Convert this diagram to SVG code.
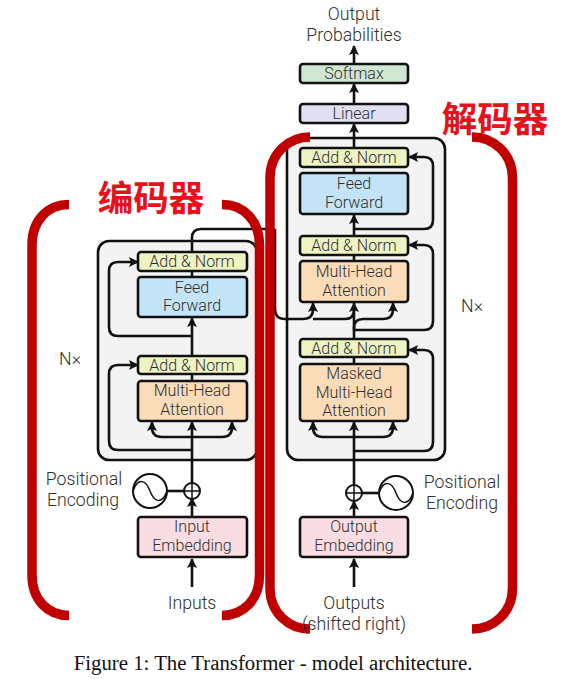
<svg xmlns="http://www.w3.org/2000/svg" width="572" height="680" viewBox="0 0 572 680">
<defs>
<marker id="ah" markerUnits="userSpaceOnUse" markerWidth="10" markerHeight="12" refX="9" refY="5" orient="auto"><path d="M0 0L10 5L0 10L2 5Z" fill="#111"/></marker>
</defs>
<style>
text{font-family:Roboto,"Liberation Sans",Arial,sans-serif;font-weight:300;font-size:16px;fill:#2e2e2e;text-anchor:middle}
.b{stroke:#111;stroke-width:2.6}
.stack{fill:#f3f3f3;stroke:#111;stroke-width:2.6}
.norm{fill:#eef3c4}.ff{fill:#c3e4f6}.mha{fill:#fbdcb9}.emb{fill:#fadde2}.soft{fill:#d0e6d2}.lin{fill:#dfe0f1}
.c{fill:none;stroke:#111;stroke-width:2.6}
.a{marker-end:url(#ah)}
.sine{fill:#fff;stroke:#111;stroke-width:2}
.br{fill:none;stroke:#c00000;stroke-width:9.500}
text.zh{font-family:"Noto Sans CJK SC",sans-serif;font-size:35.5px;font-weight:700;fill:#e8101a}
text.cap{font-family:"Liberation Serif","Times New Roman",serif;font-weight:400;font-size:20.800px;fill:#111}
text.big{font-size:17.700px}
</style>
<rect width="572" height="680" fill="#fff"/>
<g id="encoder-stack"><rect class="stack" x="98" y="241" width="159" height="219" rx="11"/></g>
<g id="decoder-stack"><rect class="stack" x="287" y="138" width="158" height="322" rx="11"/></g>
<g id="connectors">
<path class="c a" d="M192 587V559"/>
<path class="c a" d="M192 517V498"/>
<path class="c a" d="M192 483V422"/>
<path class="c a" d="M192 356V318"/>
<path class="c" d="M192 381V374M192 277V271"/>
<path class="c" d="M192 252V238Q192 229 201 229H275"/>
<path class="c a" d="M192 450H118Q109 450 109 441V374Q109 365 118 365H138"/>
<path class="c a" d="M192 336H118Q109 336 109 327V271Q109 262 118 262H138"/>
<path class="c a" d="M192 437H162Q152 437 152 427V422"/>
<path class="c a" d="M192 437H222Q232 437 232 427V422"/>
<path class="c" d="M167 491H185"/>
<path class="c a" d="M354 587V559"/>
<path class="c a" d="M354 517V501"/>
<path class="c a" d="M354 485V422"/>
<path class="c" d="M354 364V357M354 339V330"/>
<path class="c a" d="M354 330V303"/>
<path class="c" d="M354 261V255"/>
<path class="c a" d="M354 236V215"/>
<path class="c" d="M354 173V167"/>
<path class="c a" d="M354 148V124"/>
<path class="c a" d="M354 104V84"/>
<path class="c a" d="M354 64V46"/>
<path class="c a" d="M275 229V309Q275 319 285 319H303Q313 319 313 309V303"/>
<path class="c" d="M313 319H345Q354 319 354 310"/>
<path class="c a" d="M354 330V328Q354 319 363 319H383Q393 319 393 309V303"/>
<path class="c a" d="M354 229H424Q433 229 433 220V166Q433 157 424 157H409"/>
<path class="c a" d="M354 330H424Q433 330 433 321V254Q433 245 424 245H409"/>
<path class="c a" d="M354 451H424Q433 451 433 442V359Q433 350 424 350H409"/>
<path class="c a" d="M354 437H323Q313 437 313 427V422"/>
<path class="c a" d="M354 437H383Q393 437 393 427V422"/>
<path class="c" d="M361 493H379"/>
</g>
<g id="softmax"><rect class="b soft" x="300" y="64" width="108" height="19" rx="3"/><text x="354" y="79">Softmax</text></g>
<g id="linear"><rect class="b lin" x="300" y="104" width="108" height="19" rx="3"/><text x="354" y="119">Linear</text></g>
<g id="dec-norm-3"><rect class="b norm" x="300" y="148" width="108" height="19" rx="3"/><text x="354" y="163">Add &amp; Norm</text></g>
<g id="dec-ff"><rect class="b ff" x="300" y="173" width="108" height="41" rx="3"/><text x="354" y="189">Feed</text><text x="354" y="207.500">Forward</text></g>
<g id="dec-norm-2"><rect class="b norm" x="300" y="236" width="108" height="19" rx="3"/><text x="354" y="251">Add &amp; Norm</text></g>
<g id="dec-mha"><rect class="b mha" x="300" y="261" width="108" height="41" rx="3"/><text x="354" y="277">Multi-Head</text><text x="354" y="295.500">Attention</text></g>
<g id="dec-norm-1"><rect class="b norm" x="300" y="339" width="108" height="18" rx="3"/><text x="354" y="354">Add &amp; Norm</text></g>
<g id="dec-masked"><rect class="b mha" x="300" y="364" width="108" height="57" rx="3"/><text x="354" y="379">Masked</text><text x="354" y="397.500">Multi-Head</text><text x="354" y="416">Attention</text></g>
<g id="output-embedding"><rect class="b emb" x="300" y="517" width="108" height="40" rx="3"/><text x="354" y="532">Output</text><text x="354" y="550.500">Embedding</text></g>
<g id="enc-norm-2"><rect class="b norm" x="138" y="252" width="109" height="19" rx="3"/><text x="192" y="267">Add &amp; Norm</text></g>
<g id="enc-ff"><rect class="b ff" x="138" y="277" width="109" height="40" rx="3"/><text x="192" y="292.500">Feed</text><text x="192" y="311">Forward</text></g>
<g id="enc-norm-1"><rect class="b norm" x="138" y="356" width="109" height="18" rx="3"/><text x="192" y="371">Add &amp; Norm</text></g>
<g id="enc-mha"><rect class="b mha" x="138" y="381" width="109" height="40" rx="3"/><text x="192" y="396">Multi-Head</text><text x="192" y="414.500">Attention</text></g>
<g id="input-embedding"><rect class="b emb" x="138" y="517" width="109" height="40" rx="3"/><text x="192" y="532">Input</text><text x="192" y="550.500">Embedding</text></g>
<g id="enc-add"><circle class="sine" cx="192" cy="491" r="8"/><path d="M185 491H199M192 484V498" fill="none" stroke="#111" stroke-width="1.500"/></g>
<g id="dec-add"><circle class="sine" cx="354" cy="493" r="8"/><path d="M347 493H361M354 486V500" fill="none" stroke="#111" stroke-width="1.500"/></g>
<g id="enc-pos"><circle class="sine" cx="150" cy="491" r="17"/><path d="M133 491C138 477 146 480 150 491C154 502 162 505 167 491" fill="none" stroke="#111" stroke-width="1.500"/><text class="big" x="84" y="485">Positional</text><text class="big" x="83" y="506">Encoding</text></g>
<g id="dec-pos"><circle class="sine" cx="396" cy="493" r="17"/><path d="M379 493C384 479 392 482 396 493C400 504 408 507 413 493" fill="none" stroke="#111" stroke-width="1.500"/><text class="big" x="462" y="488">Positional</text><text class="big" x="462" y="509">Encoding</text></g>
<g id="brackets">
<path class="br" d="M69 204.500C48 204.500 32 220 32 245V575C32 600 48 615.500 69 615.500"/>
<path class="br" d="M222 204.500C243 204.500 259.500 220 259.500 245V575C259.500 600 243 615.500 222 615.500"/>
<path class="br" d="M310 137C289 137 270 153 270 178V588C270 613 289 629 310 629"/>
<path class="br" d="M472 137C493 137 512.500 153 512.500 178V588C512.500 613 493 629 472 629"/>
</g>
<g id="labels">
<text class="big" x="354" y="20">Output</text>
<text class="big" x="354" y="41">Probabilities</text>
<text class="big" x="192" y="609">Inputs</text>
<text class="big" x="354" y="609">Outputs</text>
<text class="big" x="354" y="630">(shifted right)</text>
<text class="big" x="70" y="365">N×</text>
<text class="big" x="472" y="312">N×</text>
<text class="zh" x="151" y="211">编码器</text>
<text class="zh" x="495" y="132">解码器</text>
<text class="cap" x="273" y="670">Figure 1: The Transformer - model architecture.</text>
</g>
</svg>
